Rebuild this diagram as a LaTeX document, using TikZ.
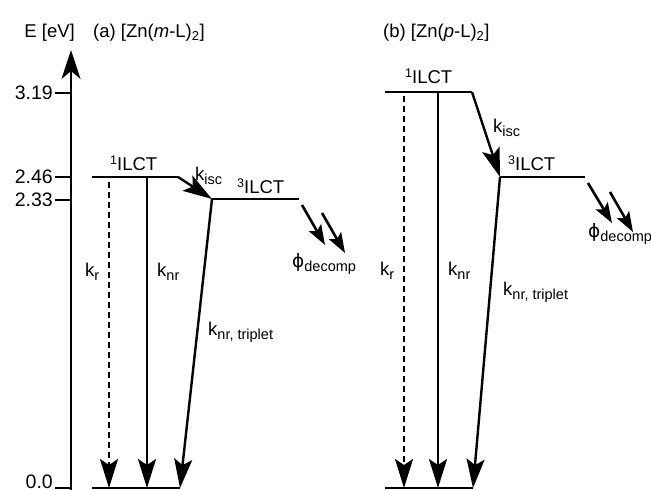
\documentclass[tikz,border=0pt]{standalone}
\usepackage{fontspec}
\setmainfont{Liberation Sans}
\newfontfamily\greekfont{DejaVu Sans}
\usetikzlibrary{arrows.meta}

% lowered index for rate constants, larger than the default \textsubscript
\newcommand\rateidx[1]{\raisebox{-4pt}{\fontsize{14.5}{16}\selectfont #1}}
\newcommand\upidx[1]{\raisebox{6pt}{\fontsize{12.5}{14}\selectfont #1}}

\begin{document}
\begin{tikzpicture}[x=1pt,y=-1pt,
  font=\fontsize{18.5}{22}\selectfont,
  level/.style={line width=2.4pt},
  axisline/.style={line width=2.4pt,-{Stealth[length=29pt,width=19pt,inset=8pt]}},
  decay/.style={line width=2.4pt,-{Stealth[length=29pt,width=18pt,inset=6pt]}},
  radiative/.style={decay,dash pattern=on 6pt off 4pt},
  decomp/.style={line width=2.6pt,-{Stealth[length=20pt,width=14pt,inset=4pt]}},
  lbl/.style={anchor=base west,inner sep=0pt},
  ticklbl/.style={anchor=east,inner sep=0pt,font=\fontsize{19.5}{22}\selectfont},
]
\useasboundingbox (0,0) rectangle (651,490);

% energy axis with ticks
\coordinate (ax0) at (71,490);
\coordinate (ax1) at (71,50);
\draw[axisline] (ax0) -- (ax1);
\foreach \y/\v/\n in {93/3.19/a, 177/2.46/b, 200/2.33/c, 482/0.0/d}{
  \node[ticklbl] (t\n) at (53,\y) {\v};
}
\foreach \y/\n in {93/a, 177/b, 200/c, 488/d}{
  \coordinate (tl\n) at (55,\y);
  \coordinate (tr\n) at (71,\y);
  \draw[level] (tl\n) -- (tr\n);
}

% headings
\node[lbl,anchor=base east] (eaxis) at (75,37) {E [eV]};
\node[lbl] (titA) at (93,37) {(a) [Zn(\textit{m}-L)\textsubscript{2}]};
\node[lbl] (titB) at (383,37) {(b) [Zn(\textit{p}-L)\textsubscript{2}]};

% ---------- panel (a) ----------
\coordinate (gA1) at (92,488);   \coordinate (gA2) at (180,488);
\coordinate (sA1) at (92,177);   \coordinate (sA2) at (178,177);
\coordinate (tA1) at (212,199);  \coordinate (tA2) at (299,199);
\coordinate (rA0) at (109,182);  \coordinate (rA1) at (109,488);
\coordinate (nA0) at (147,177);  \coordinate (nA1) at (147,488);
\coordinate (pA0) at (302,205);  \coordinate (pA1) at (325,245);
\coordinate (qA0) at (322,213);  \coordinate (qA1) at (345,253);

\draw[level] (gA1) -- (gA2);
\draw[level] (sA1) -- (sA2);
\draw[level] (tA1) -- (tA2);
\draw[decay] (sA2) -- (tA1);
\draw[radiative] (rA0) -- (rA1);
\draw[decay] (nA0) -- (nA1);
\draw[decay] (tA1) -- (gA2);
\draw[decomp] (pA0) -- (pA1);
\draw[decomp] (qA0) -- (qA1);

\node[lbl] (lsA) at (110,170) {\upidx{1}ILCT};
\node[lbl] (ltA) at (237,193) {\upidx{3}ILCT};
\node[lbl] (liA) at (195,180) {k\rateidx{isc}};
\node[lbl] (lrA) at (85,276) {k\rateidx{r}};
\node[lbl] (lnA) at (157,276) {k\rateidx{nr}};
\node[lbl] (ltrA) at (208,335) {k\rateidx{nr, triplet}};
\node[lbl] (lpA) at (292,267) {{\greekfont ϕ}\rateidx{decomp}};

% ---------- panel (b) ----------
\coordinate (gB1) at (385,488);  \coordinate (gB2) at (473,488);
\coordinate (sB1) at (385,92);   \coordinate (sB2) at (472,92);
\coordinate (tB1) at (500,177);  \coordinate (tB2) at (585,177);
\coordinate (rB0) at (404,96);   \coordinate (rB1) at (404,488);
\coordinate (nB0) at (438,92);   \coordinate (nB1) at (438,488);
\coordinate (pB0) at (588,183);  \coordinate (pB1) at (612,223);
\coordinate (qB0) at (610,192);  \coordinate (qB1) at (633,232);

\draw[level] (gB1) -- (gB2);
\draw[level] (sB1) -- (sB2);
\draw[level] (tB1) -- (tB2);
\draw[decay] (sB2) -- (tB1);
\draw[radiative] (rB0) -- (rB1);
\draw[decay] (nB0) -- (nB1);
\draw[decay] (tB1) -- (gB2);
\draw[decomp] (pB0) -- (pB1);
\draw[decomp] (qB0) -- (qB1);

\node[lbl] (lsB) at (405,83) {\upidx{1}ILCT};
\node[lbl] (ltB) at (508,170) {\upidx{3}ILCT};
\node[lbl] (liB) at (493,132) {k\rateidx{isc}};
\node[lbl] (lrB) at (380,275) {k\rateidx{r}};
\node[lbl] (lnB) at (448,275) {k\rateidx{nr}};
\node[lbl] (ltrB) at (503,295) {k\rateidx{nr, triplet}};
\node[lbl] (lpB) at (588,237) {{\greekfont ϕ}\rateidx{decomp}};
\end{tikzpicture}
\end{document}
